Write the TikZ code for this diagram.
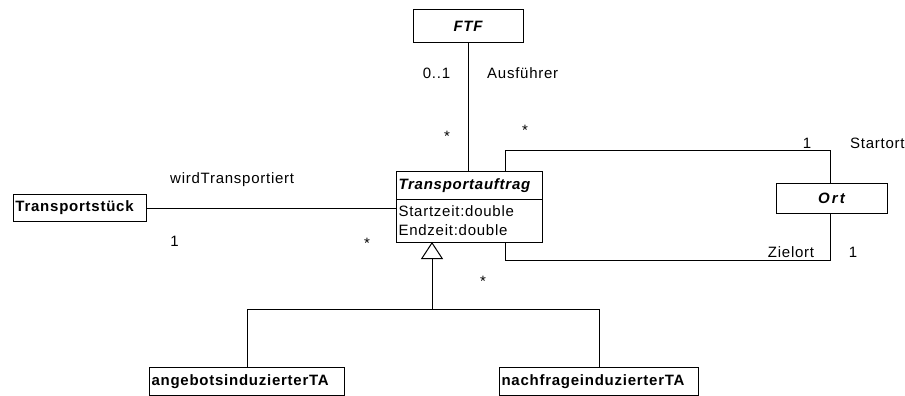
\documentclass[tikz,border=0pt]{standalone}
\usepackage{fontspec}
\setmainfont[LetterSpace=5]{Liberation Sans}
\usetikzlibrary{arrows.meta}
\begin{document}
\begin{tikzpicture}[x=1pt,y=-1pt,
  cls/.style={draw, line width=1pt, inner xsep=2pt, inner ysep=0pt,
    font=\fontsize{15}{18}\selectfont\bfseries, anchor=north west},
  abstractcls/.style={cls, font=\fontsize{15}{18}\selectfont\bfseries\itshape},
  attrs/.style={draw, line width=1pt, inner xsep=2pt, inner ysep=0pt,
    font=\fontsize{15}{19}\selectfont, anchor=north west, align=left},
  link/.style={line width=1pt},
  gen/.style={line width=1pt, -{Triangle[open, length=17pt, width=22pt, line width=1pt]}},
  lbl/.style={font=\fontsize{15}{18}\selectfont, inner sep=0pt, anchor=base}]
\useasboundingbox (0,0) rectangle (905,396);

% classes
\node[abstractcls, anchor=center, minimum width=110pt, minimum height=33pt] (ftf) at (468,26.5) {FTF};
\node[abstractcls, text width=142pt, minimum height=28pt] (tat) at (396,171) {Transportauftrag};
\node[attrs, text width=142pt, minimum height=43pt] (taa) at (396,199) {Startzeit:double\\Endzeit:double};
\node[cls, text width=129pt, minimum height=27pt] (ts) at (13,194) {Transportstück};
\node[abstractcls, anchor=center, minimum width=111pt, minimum height=30pt,
  font=\fontsize{15}{18}\selectfont\bfseries\itshape\addfontfeature{LetterSpace=14}] (ort) at (831.5,198) {Ort};
\node[cls, text width=191pt, minimum height=28pt] (ab) at (149,367) {angebotsinduzierterTA};
\node[cls, text width=195pt, minimum height=28pt] (nf) at (499,367) {nachfrageinduzierterTA};

% connector end points
\coordinate (s1) at (505,171);
\coordinate (s3) at (830,150);
\coordinate (z1) at (505,242);
\coordinate (z3) at (830,260);
\coordinate (apex) at (432,242);
\coordinate (hub) at (432,309);

% associations
\draw[link] (ftf.south) -- (ftf.south |- tat.north);
\draw[link] (ts.east) -- (ts.east -| taa.west);
\draw[link] (s1) |- (s3) -- (s3 |- ort.north);
\draw[link] (z1) |- (z3) -- (z3 |- ort.south);

% generalization
\draw[link] (ab.north) |- (hub);
\draw[link] (nf.north) |- (hub);
\draw[gen] (hub) -- (apex);

% role names and multiplicities
\node[lbl] (m1) at (436.5,78.5) {0..1};
\node[lbl, anchor=base west] (r1) at (487,78.5) {Ausführer};
\node[lbl] (m2) at (447,141.5) {*};
\node[lbl] (m3) at (525,135.5) {*};
\node[lbl] (m4) at (807,148.5) {1};
\node[lbl, anchor=base west] (r2) at (850,148.5) {Startort};
\node[lbl, anchor=base west] (r3) at (170,183) {wirdTransportiert};
\node[lbl] (m5) at (174.5,246) {1};
\node[lbl] (m6) at (367,248.5) {*};
\node[lbl] (r4) at (791,257) {Zielort};
\node[lbl] (m7) at (853,257) {1};
\node[lbl] (m8) at (483,286.5) {*};
\end{tikzpicture}
\end{document}
